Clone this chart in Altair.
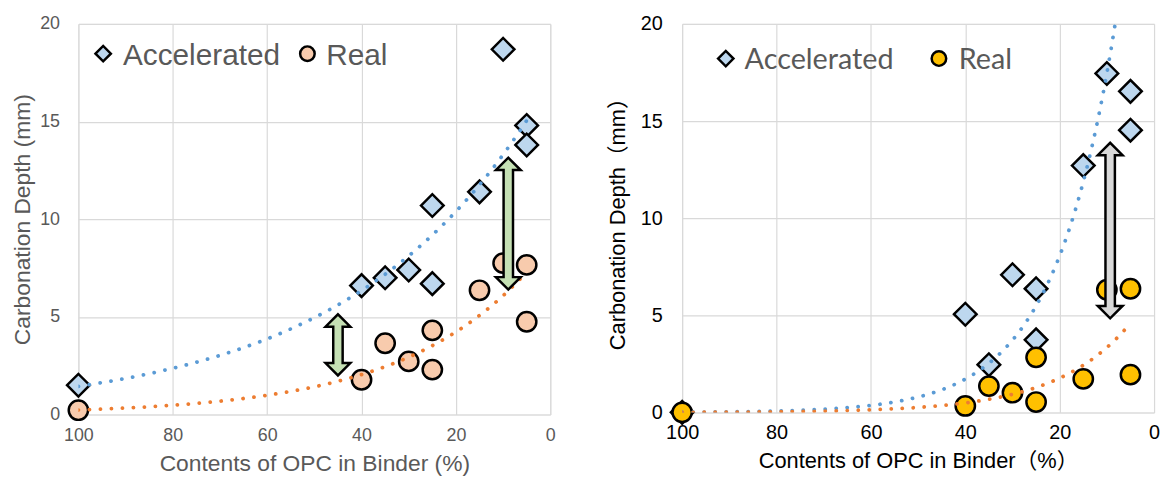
import altair as alt
import numpy as np
import pandas as pd

# ---------------- data ----------------
series_names = ["Accelerated", "Real"]

opc_values = [100, 40, 35, 30, 25, 25, 15, 10, 5, 5]

left_accelerated = [1.5, 6.6, 7.0, 7.4, 10.7, 6.7, 11.4, 18.7, 14.8, 13.8]
left_real = [0.22, 1.78, 3.65, 2.72, 4.31, 2.30, 6.36, 7.75, 7.66, 4.75]

right_accelerated = [0.01, 5.06, 2.46, 7.09, 6.37, 3.74, 12.71, 17.45, 16.53, 14.53]
right_real = [0.01, 0.34, 1.36, 1.02, 2.84, 0.54, 1.73, 6.32, 6.37, 1.95]

left_arrow_x = [45, 8.9]
left_arrow_low = [2.0, 6.4]
left_arrow_high = [5.13, 13.15]

right_arrow_x = [9.3]
right_arrow_low = [4.85]
right_arrow_high = [13.88]

x_ticks = [0, 20, 40, 60, 80, 100]
y_ticks = [0, 5, 10, 15, 20]


def trend(xs, ys, n=300):
    """Excel-style exponential trendline (least squares on ln y)."""
    b, a = np.polyfit(np.array(xs, float), np.log(np.array(ys, float)), 1)
    grid = np.linspace(max(xs), min(xs), n)
    return pd.DataFrame({"opc": grid, "depth": np.exp(a + b * grid)})


def panel(acc, real, arrow_x, arrow_lo, arrow_hi, cfg):
    w, h = cfg["w"], cfg["h"]
    df_acc = pd.DataFrame({"opc": opc_values, "depth": acc, "series": series_names[0]})
    df_real = pd.DataFrame({"opc": opc_values, "depth": real, "series": series_names[1]})
    t_acc = trend(opc_values, acc)
    t_real = trend(opc_values, real)
    arrows = pd.DataFrame({"x": arrow_x, "lo": arrow_lo, "hi": arrow_hi})

    xscale = alt.Scale(domain=[0, 100], reverse=True, nice=False)
    yscale = alt.Scale(domain=[0, 20], nice=False)
    xaxis = alt.Axis(values=x_ticks, title=cfg["xtitle"], grid=True, gridColor="#D9D9D9",
                     gridWidth=1.2, domain=False, ticks=False, labelPadding=cfg["xlp"],
                     labelFont=cfg["font"], labelFontSize=cfg["lfs"], labelColor=cfg["tc"],
                     titleFont=cfg["font"], titleFontSize=cfg["tfs"], titleColor=cfg["tc"],
                     titleFontWeight="normal", titlePadding=cfg["xtp"], labelFlush=False)
    yaxis = alt.Axis(values=y_ticks, title=cfg["ytitle"], grid=True, gridColor="#D9D9D9",
                     gridWidth=1.2, domain=False, ticks=False, labelPadding=cfg["ylp"],
                     labelFont=cfg["font"], labelFontSize=cfg["lfs"], labelColor=cfg["tc"],
                     titleFont=cfg["font"], titleFontSize=cfg["tfs"], titleColor=cfg["tc"],
                     titleFontWeight="normal", titlePadding=cfg["ytp"])

    fill_scale = alt.Scale(domain=series_names, range=["#BDD7EE", cfg["realfill"]])
    shape_scale = alt.Scale(domain=series_names, range=["diamond", "circle"])

    def pts(df, size):
        return alt.Chart(df).mark_point(filled=True, stroke="black", strokeWidth=2.5,
                                        opacity=1, fillOpacity=1, size=size).encode(
            x=alt.X("opc:Q", scale=xscale, axis=xaxis),
            y=alt.Y("depth:Q", scale=yscale, axis=yaxis),
            fill=alt.Fill("series:N", scale=fill_scale, legend=None),
            shape=alt.Shape("series:N", scale=shape_scale, legend=None),
        )

    def tline(df, color):
        return alt.Chart(df).mark_line(color=color, strokeWidth=3.8, strokeDash=[0.1, 11],
                                       strokeCap="round", clip=True).encode(
            x=alt.X("opc:Q", scale=xscale), y=alt.Y("depth:Q", scale=yscale))

    hw = 12.5
    base = alt.Chart(arrows)
    shaft_out = base.mark_rule(color="black", strokeWidth=12, yOffset=-(hw - 0.5),
                               y2Offset=(hw - 0.5)).encode(
        x=alt.X("x:Q", scale=xscale), y=alt.Y("lo:Q", scale=yscale), y2="hi:Q")
    head_up = base.mark_point(shape="M-1,0L1,0L0,-1Z", size=(2 * hw) ** 2, filled=True,
                              fill=cfg["arrowfill"], stroke="black", strokeWidth=2.5,
                              opacity=1, yOffset=hw).encode(
        x=alt.X("x:Q", scale=xscale), y=alt.Y("hi:Q", scale=yscale))
    head_dn = base.mark_point(shape="M-1,0L1,0L0,1Z", size=(2 * hw) ** 2, filled=True,
                              fill=cfg["arrowfill"], stroke="black", strokeWidth=2.5,
                              opacity=1, yOffset=-hw).encode(
        x=alt.X("x:Q", scale=xscale), y=alt.Y("lo:Q", scale=yscale))
    shaft_in = base.mark_rule(color=cfg["arrowfill"], strokeWidth=7, yOffset=-(hw - 2.5),
                              y2Offset=(hw - 2.5)).encode(
        x=alt.X("x:Q", scale=xscale), y=alt.Y("lo:Q", scale=yscale), y2="hi:Q")

    # in-plot legend (Excel style)
    leg_layers = []
    lg = cfg["legend"]
    for i, name in enumerate(series_names):
        ldf = pd.DataFrame({"label": [name]})
        sym = alt.Chart(ldf).mark_point(
            shape=["diamond", "circle"][i], size=[240, 215][i], filled=True,
            fill=["#BDD7EE", cfg["realfill"]][i], stroke="black", strokeWidth=2.5,
            opacity=1).encode(x=alt.value(lg["sx"][i]), y=alt.value(lg["sy"]))
        txt = alt.Chart(ldf).mark_text(
            align="left", baseline="alphabetic", font=cfg["lfont"], fontSize=cfg["lgfs"],
            color="#595959").encode(x=alt.value(lg["tx"][i]), y=alt.value(lg["ty"]),
                                    text="label:N")
        leg_layers += [sym, txt]

    return alt.layer(
        pts(df_acc, 520), pts(df_real, 380),
        tline(t_acc, "#5B9BD5"), tline(t_real, "#ED7D31"),
        shaft_out, head_up, head_dn, shaft_in, *leg_layers,
    ).properties(width=w, height=h)


left_cfg = dict(w=476, h=394, xtitle="Contents of OPC in Binder (%)",
                ytitle="Carbonation Depth (mm)", font="Liberation Sans",
                lfs=18, tfs=23, tc="#595959", xlp=12, xtp=8, ylp=19, ytp=5,
                lfont="Liberation Sans", lgfs=30,
                legend=dict(sx=[25, 231], sy=30, tx=[45, 250], ty=41),
                realfill="#F8CBAD", arrowfill="#C5E0B4")
right_cfg = dict(w=476, h=392, xtitle="Contents of OPC in Binder（%）",
                 ytitle="Carbonation Depth（mm）", font="Liberation Sans, Noto Sans CJK JP",
                 lfs=20, tfs=22, tc="#000000", xlp=10, xtp=8, ylp=20, ytp=11,
                 lfont="Lato", lgfs=29,
                 legend=dict(sx=[44, 259], sy=35, tx=[63, 279], ty=45),
                 realfill="#FFC000", arrowfill="#D9D9D9")

left = panel(left_accelerated, left_real, left_arrow_x, left_arrow_low, left_arrow_high, left_cfg)
right = panel(right_accelerated, right_real, right_arrow_x, right_arrow_low, right_arrow_high, right_cfg)

chart = alt.hconcat(left, right, spacing=50).resolve_scale(
    x="independent", y="independent", fill="independent", shape="independent"
).properties(
    padding={"left": 3, "top": 3, "right": 0, "bottom": 0}
).configure_view(stroke=None).configure(background="white")

chart.save("out.html", embed_options={"renderer": "svg", "actions": False})
